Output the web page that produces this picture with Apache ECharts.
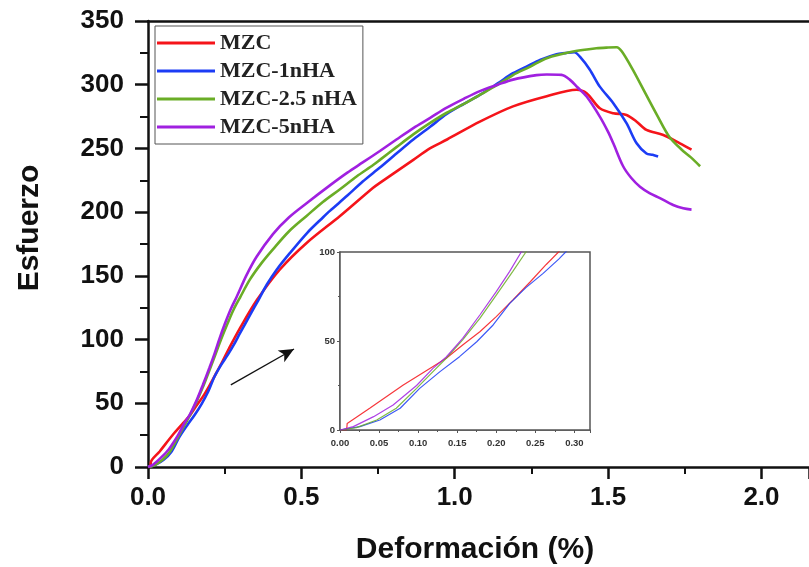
<!DOCTYPE html>
<html>
<head>
<meta charset="utf-8">
<title>Esfuerzo - Deformación</title>
<script src="https://cdn.jsdelivr.net/npm/echarts@6/dist/echarts.min.js"></script>
<style>
  html, body { margin: 0; padding: 0; background: #fff; }
  #myChart { width: 809px; height: 567px; }
</style>
</head>
<body>
<div id="myChart"></div>
<script>
    // curvas esfuerzo-deformación [deformación %, esfuerzo]
    var mzc = [[0, 0], [0.0085, 0], [0.0092, 3.7], [0.038, 12.2], [0.081, 25.3], [0.115, 34.6], [0.136, 40.3],
        [0.157, 47.8], [0.179, 55.2], [0.20, 63.7], [0.221, 73], [0.243, 83], [0.264, 93], [0.30, 109],
        [0.355, 131], [0.43, 155], [0.518, 176], [0.626, 197], [0.733, 219], [0.756, 223], [0.865, 241],
        [0.919, 250], [0.975, 257], [1.082, 271], [1.19, 283], [1.30, 291], [1.397, 296], [1.43, 293.3],
        [1.473, 281.5], [1.517, 277.6], [1.56, 276.3], [1.593, 271], [1.625, 264.5], [1.68, 260.6],
        [1.734, 254], [1.772, 249]];
    var mzc1nHA = [[0, 0], [0.0255, 1.9], [0.051, 5.6], [0.077, 12.2], [0.102, 23.4], [0.128, 32.8], [0.153, 41.2],
        [0.175, 49.6], [0.196, 59], [0.217, 71], [0.238, 80], [0.26, 88], [0.28, 96], [0.30, 105],
        [0.332, 119], [0.36, 131], [0.387, 143], [0.42, 155], [0.463, 168], [0.52, 184],
        [0.571, 196], [0.593, 201], [0.65, 213], [0.70, 224], [0.756, 235], [0.81, 246], [0.865, 257],
        [0.92, 267], [0.974, 277], [1.03, 285], [1.082, 292], [1.14, 301], [1.19, 309], [1.24, 315],
        [1.278, 319.5], [1.332, 324], [1.36, 324.8], [1.39, 325.5], [1.408, 322], [1.44, 312],
        [1.473, 298.5], [1.517, 285.5], [1.56, 269.8], [1.593, 254], [1.625, 246], [1.645, 245], [1.663, 243.6]];
    var mzc25nHA = [[0, 0], [0.021, 1.3], [0.047, 5.6], [0.072, 12.2], [0.098, 23.4], [0.119, 32.8], [0.136, 40.3],
        [0.157, 50.6], [0.179, 62.7], [0.20, 75.8], [0.221, 89], [0.238, 100], [0.26, 113], [0.28, 124],
        [0.30, 133], [0.332, 147], [0.37, 160], [0.408, 171], [0.46, 185], [0.517, 197], [0.57, 208],
        [0.626, 218], [0.68, 228], [0.734, 237], [0.756, 241], [0.81, 251], [0.865, 261], [0.92, 270],
        [0.974, 278], [1.03, 285], [1.082, 292], [1.14, 300], [1.19, 307.6], [1.245, 314], [1.30, 320.8],
        [1.386, 326], [1.462, 328.6], [1.50, 329.2], [1.528, 329.4], [1.545, 326], [1.58, 312], [1.62, 294],
        [1.66, 276], [1.70, 259], [1.74, 249], [1.77, 243], [1.80, 236]];
    var mzc5nHA = [[0, 0], [0.017, 1.9], [0.043, 7.5], [0.068, 14], [0.098, 25], [0.119, 34.6], [0.136, 41],
        [0.157, 51.5], [0.179, 64.6], [0.20, 77.7], [0.217, 89], [0.232, 100], [0.25, 112], [0.27, 124],
        [0.29, 134], [0.32, 150], [0.354, 165], [0.408, 183], [0.46, 196], [0.517, 207], [0.593, 221],
        [0.65, 231], [0.70, 239], [0.756, 248], [0.81, 257], [0.865, 266], [0.92, 274], [0.974, 282],
        [1.03, 289], [1.082, 295], [1.14, 300], [1.19, 304], [1.267, 307.5], [1.30, 308], [1.348, 307.7],
        [1.375, 304], [1.40, 298], [1.43, 290.7], [1.473, 275], [1.50, 263], [1.517, 254], [1.549, 236],
        [1.575, 227], [1.604, 220], [1.635, 215], [1.669, 211], [1.712, 205.6], [1.745, 203], [1.772, 202]];

    var names = ['MZC', 'MZC-1nHA', 'MZC-2.5 nHA', 'MZC-5nHA'];
    var colors = ['#f5141a', '#1c3cf5', '#6aad26', '#a020e0'];
    var curves = [mzc, mzc1nHA, mzc25nHA, mzc5nHA];
    // flecha que señala el recuadro ampliado
    var arrowFrom = [0.27, 64.4];
    var arrowTo = [0.476, 92.6];

    var fontSans = '"Liberation Sans", Arial, sans-serif';

    var series = [];
    curves.forEach(function (d, i) {
        var s = {
            name: names[i],
            type: 'line',
            xAxisIndex: 0,
            yAxisIndex: 0,
            data: d,
            showSymbol: false,
            smooth: 0.3,
            lineStyle: {color: colors[i], width: 2.6},
            itemStyle: {color: colors[i]},
            z: 3
        };
        if (i === 0) {
            s.markLine = {
                silent: true,
                symbol: ['none', 'arrow'],
                symbolSize: [10, 15],
                label: {show: false},
                lineStyle: {color: '#111', width: 1.3, type: 'solid'},
                data: [[{coord: arrowFrom}, {coord: arrowTo}]]
            };
        }
        series.push(s);
        // curva del recuadro (zona inicial)
        series.push({
            name: names[i],
            type: 'line',
            xAxisIndex: 1,
            yAxisIndex: 1,
            data: d,
            showSymbol: false,
            lineStyle: {color: colors[i], width: 1.2, opacity: 0.85},
            itemStyle: {color: colors[i]},
            clip: true,
            z: 5
        });
    });

    var myChart = echarts.init(document.getElementById('myChart'));
    myChart.setOption({
        backgroundColor: '#fff',
        animation: false,
        grid: [{
            left: 148,
            top: 21,
            right: 0,
            height: 446
        }, {
            left: 340,
            top: 252,
            width: 250,
            height: 178,
            show: true,
            backgroundColor: '#fff',
            borderColor: '#555',
            borderWidth: 1.5,
            z: 4
        }],
        legend: {
            data: names,
            orient: 'vertical',
            left: 155,
            top: 26,
            padding: [6, 6, 6, 2],
            itemGap: 6,
            itemWidth: 58,
            itemHeight: 3,
            icon: 'rect',
            borderColor: '#555',
            borderWidth: 1,
            backgroundColor: '#fff',
            textStyle: {
                fontFamily: '"Liberation Serif", "Times New Roman", serif',
                fontWeight: 'bold',
                fontSize: 22,
                color: '#222'
            }
        },
        xAxis: [{
            gridIndex: 0,
            type: 'value',
            min: 0,
            max: 2.155,
            interval: 0.5,
            axisLine: {lineStyle: {color: '#111', width: 2.5}},
            axisTick: {length: 12, lineStyle: {width: 2.5}},
            minorTick: {show: true, splitNumber: 2, length: 7, lineStyle: {color: '#111', width: 2}},
            splitLine: {show: false},
            axisLabel: {
                margin: 18,
                showMaxLabel: false,
                color: '#111',
                fontFamily: fontSans,
                fontWeight: 'bold',
                fontSize: 26,
                formatter: function (v) { return v.toFixed(1); }
            }
        }, {
            gridIndex: 1,
            type: 'value',
            min: 0,
            max: 0.32,
            interval: 0.05,
            axisLine: {lineStyle: {color: '#555', width: 1.5}},
            axisTick: {length: 3, lineStyle: {color: '#555'}},
            minorTick: {show: true, splitNumber: 2, length: 2, lineStyle: {color: '#555'}},
            splitLine: {show: false},
            axisLabel: {
                margin: 8,
                showMaxLabel: false,
                color: '#333',
                fontFamily: fontSans,
                fontWeight: 'bold',
                fontSize: 9.5,
                formatter: function (v) { return v.toFixed(2); }
            }
        }, {
            // borde superior del marco
            gridIndex: 0,
            type: 'value',
            position: 'top',
            min: 0,
            max: 2.155,
            axisLine: {show: true, lineStyle: {color: '#111', width: 2.5}},
            axisTick: {show: false},
            axisLabel: {show: false},
            splitLine: {show: false}
        }],
        yAxis: [{
            gridIndex: 0,
            type: 'value',
            min: 0,
            max: 350,
            interval: 50,
            axisLine: {show: true, lineStyle: {color: '#111', width: 2.5}},
            axisTick: {show: true, length: 13, lineStyle: {width: 2.5}},
            minorTick: {show: true, splitNumber: 2, length: 8, lineStyle: {color: '#111', width: 2}},
            splitLine: {show: false},
            axisLabel: {
                margin: 24,
                color: '#111',
                fontFamily: fontSans,
                fontWeight: 'bold',
                fontSize: 26
            }
        }, {
            gridIndex: 1,
            type: 'value',
            min: 0,
            max: 100,
            interval: 50,
            axisLine: {show: true, lineStyle: {color: '#555', width: 1.5}},
            axisTick: {show: true, length: 3, lineStyle: {color: '#555'}},
            minorTick: {show: true, splitNumber: 2, length: 2, lineStyle: {color: '#555'}},
            splitLine: {show: false},
            axisLabel: {
                margin: 5,
                color: '#333',
                fontFamily: fontSans,
                fontWeight: 'bold',
                fontSize: 9.5
            }
        }],
        graphic: [{
            type: 'text',
            x: 475,
            y: 550,
            style: {
                text: 'Deformación (%)',
                textAlign: 'center',
                textVerticalAlign: 'middle',
                font: 'bold 30px "Liberation Sans", Arial, sans-serif',
                fill: '#111'
            }
        }, {
            type: 'text',
            x: 30,
            y: 228,
            rotation: Math.PI / 2,
            style: {
                text: 'Esfuerzo',
                textAlign: 'center',
                textVerticalAlign: 'middle',
                font: 'bold 30px "Liberation Sans", Arial, sans-serif',
                fill: '#111'
            }
        }],
        series: series
    });
</script>
</body>
</html>
